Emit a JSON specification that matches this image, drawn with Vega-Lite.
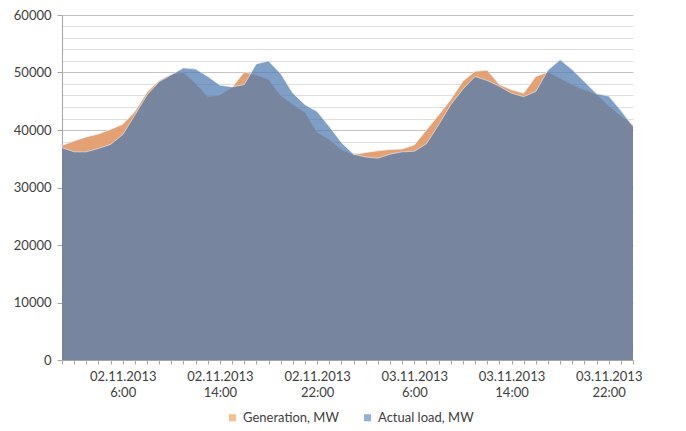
{
  "$schema": "https://vega.github.io/schema/vega-lite/v6.json",
  "width": 571,
  "height": 345,
  "autosize": "none",
  "padding": {"left": 62, "top": 15, "right": 53, "bottom": 71},
  "background": "white",
  "config": {
    "view": {"stroke": null},
    "font": "Lato",
    "axis": {"labelFont": "Lato", "labelFontSize": 13, "labelColor": "#404040", "domainColor": "#a6a6a6", "tickColor": "#a6a6a6", "titleFont": "Lato"},
    "legend": {"labelFont": "Lato", "labelFontSize": 13, "labelColor": "#404040"}
  },
  "data": {
    "values": [
      {"h": 1, "gen": 37300, "load": 36900},
      {"h": 2, "gen": 38100, "load": 36200},
      {"h": 3, "gen": 38800, "load": 36200},
      {"h": 4, "gen": 39300, "load": 36800},
      {"h": 5, "gen": 40100, "load": 37500},
      {"h": 6, "gen": 41000, "load": 39200},
      {"h": 7, "gen": 43200, "load": 42600},
      {"h": 8, "gen": 46600, "load": 46100},
      {"h": 9, "gen": 48600, "load": 48400},
      {"h": 10, "gen": 49700, "load": 49600},
      {"h": 11, "gen": 50000, "load": 50800},
      {"h": 12, "gen": 48100, "load": 50600},
      {"h": 13, "gen": 45800, "load": 49300},
      {"h": 14, "gen": 46100, "load": 47800},
      {"h": 15, "gen": 47400, "load": 47500},
      {"h": 16, "gen": 50100, "load": 47900},
      {"h": 17, "gen": 49600, "load": 51500},
      {"h": 18, "gen": 48800, "load": 52000},
      {"h": 19, "gen": 46000, "load": 49800},
      {"h": 20, "gen": 44500, "load": 46400},
      {"h": 21, "gen": 43100, "load": 44400},
      {"h": 22, "gen": 39600, "load": 43200},
      {"h": 23, "gen": 38400, "load": 40600},
      {"h": 24, "gen": 36600, "load": 37800},
      {"h": 25, "gen": 35700, "load": 35800},
      {"h": 26, "gen": 36100, "load": 35300},
      {"h": 27, "gen": 36400, "load": 35100},
      {"h": 28, "gen": 36600, "load": 35800},
      {"h": 29, "gen": 36700, "load": 36200},
      {"h": 30, "gen": 37400, "load": 36300},
      {"h": 31, "gen": 40000, "load": 37600},
      {"h": 32, "gen": 42600, "load": 40900},
      {"h": 33, "gen": 45300, "load": 44400},
      {"h": 34, "gen": 48500, "load": 47100},
      {"h": 35, "gen": 50200, "load": 49300},
      {"h": 36, "gen": 50400, "load": 48600},
      {"h": 37, "gen": 47900, "load": 47600},
      {"h": 38, "gen": 47000, "load": 46400},
      {"h": 39, "gen": 46400, "load": 45800},
      {"h": 40, "gen": 49300, "load": 46700},
      {"h": 41, "gen": 50100, "load": 50400},
      {"h": 42, "gen": 49000, "load": 52200},
      {"h": 43, "gen": 47900, "load": 50500},
      {"h": 44, "gen": 47000, "load": 48400},
      {"h": 45, "gen": 46200, "load": 46300},
      {"h": 46, "gen": 44200, "load": 45900},
      {"h": 47, "gen": 42500, "load": 43400},
      {"h": 48, "gen": 40900, "load": 40600}
    ]
  },
  "encoding": {
    "x": {
      "field": "h",
      "type": "quantitative",
      "scale": {"domain": [1, 48], "nice": false, "zero": false},
      "axis": {
        "title": null,
        "grid": false,
        "tickCount": 100,
        "values": [1,2,3,4,5,6,7,8,9,10,11,12,13,14,15,16,17,18,19,20,21,22,23,24,25,26,27,28,29,30,31,32,33,34,35,36,37,38,39,40,41,42,43,44,45,46,47,48],
        "labelExpr": "datum.value == 6 ? ['02.11.2013', '6:00'] : datum.value == 14 ? ['02.11.2013', '14:00'] : datum.value == 22 ? ['02.11.2013', '22:00'] : datum.value == 30 ? ['03.11.2013', '6:00'] : datum.value == 38 ? ['03.11.2013', '14:00'] : datum.value == 46 ? ['03.11.2013', '22:00'] : ''",
        "labelAngle": 0,
        "labelAlign": "center",
        "labelBaseline": "top",
        "labelLineHeight": 16,
        "labelPadding": 6,
        "tickSize": 4,
        "labelOverlap": false,
        "labelFlush": false
      }
    }
  },
  "layer": [
    {
      "mark": {"type": "area", "color": "#E29A68", "opacity": 0.92},
      "encoding": {
        "y": {
          "field": "gen",
          "type": "quantitative",
          "scale": {"domain": [0, 60000], "nice": false},
          "axis": {
            "title": null,
            "tickCount": 100,
            "values": [0,2000,4000,6000,8000,10000,12000,14000,16000,18000,20000,22000,24000,26000,28000,30000,32000,34000,36000,38000,40000,42000,44000,46000,48000,50000,52000,54000,56000,58000,60000],
            "format": "d",
            "labelExpr": "datum.value % 10000 === 0 ? datum.label : ''",
            "labelOverlap": false,
            "grid": true,
            "gridColor": {"condition": {"test": "datum.value % 10000 === 0", "value": "#c4c4c4"}, "value": "#dedede"},
            "gridWidth": 1,
            "tickOpacity": {"condition": {"test": "datum.value % 10000 === 0", "value": 1}, "value": 0},
            "tickSize": 5,
            "labelPadding": 6
          }
        }
      }
    },
    {
      "mark": {"type": "line", "color": "#f2f2f2", "strokeWidth": 1, "opacity": 0.7},
      "encoding": {"y": {"field": "gen", "type": "quantitative"}}
    },
    {
      "mark": {"type": "area", "color": "#4E7AB0", "opacity": 0.72},
      "encoding": {"y": {"field": "load", "type": "quantitative"}}
    },
    {
      "mark": {"type": "line", "color": "#f2f2f2", "strokeWidth": 1, "opacity": 0.6},
      "encoding": {"y": {"field": "load", "type": "quantitative"}}
    },
    {
      "transform": [{"fold": ["gen", "load"], "as": ["key", "val"]}],
      "mark": {"type": "square", "opacity": 0},
      "encoding": {
        "y": {"field": "val", "type": "quantitative"},
        "color": {
          "field": "key",
          "type": "nominal",
          "scale": {"domain": ["gen", "load"], "range": ["#F9C08F", "#93B1D6"]},
          "legend": {
            "title": null,
            "orient": "none",
            "legendX": 164,
            "legendY": 396,
            "direction": "horizontal",
            "labelExpr": "datum.value == 'gen' ? 'Generation, MW' : 'Actual load, MW'",
            "symbolType": "square",
            "symbolSize": 50,
            "symbolOpacity": 1,
            "symbolStrokeWidth": 0,
            "labelOffset": 4,
            "columnPadding": 22
          }
        }
      }
    }
  ]
}
